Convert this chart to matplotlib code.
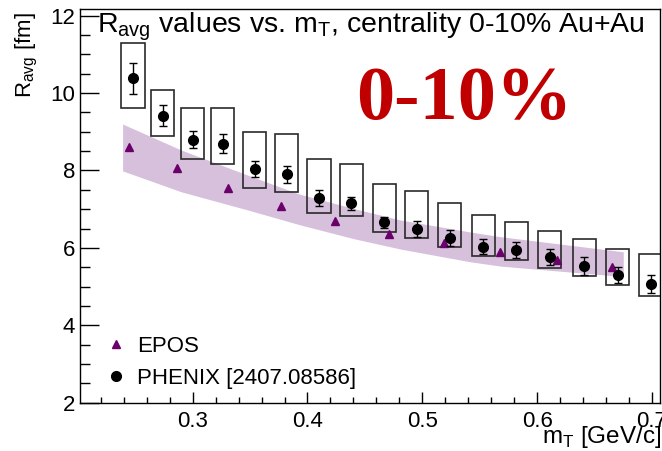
import matplotlib
matplotlib.use("Agg")
import matplotlib.pyplot as plt
from matplotlib.patches import Rectangle
from matplotlib.lines import Line2D
from matplotlib.ticker import MultipleLocator, FormatStrFormatter

plt.rcParams['font.family'] = ['Liberation Sans', 'DejaVu Sans']
plt.rcParams['mathtext.fontset'] = 'custom'
plt.rcParams['mathtext.rm'] = 'Liberation Sans'

# PHENIX data
mt = [0.248, 0.274, 0.300, 0.326, 0.354, 0.382, 0.410, 0.438, 0.467,
      0.495, 0.524, 0.553, 0.582, 0.611, 0.641, 0.670, 0.699]
ravg = [10.38, 9.42, 8.80, 8.69, 8.03, 7.90, 7.28, 7.15, 6.66,
        6.48, 6.26, 6.03, 5.95, 5.76, 5.54, 5.30, 5.07]
stat = [0.40, 0.26, 0.23, 0.245, 0.205, 0.22, 0.205, 0.175, 0.15,
        0.205, 0.205, 0.19, 0.205, 0.21, 0.23, 0.215, 0.225]
syst_hi = [11.29, 10.08, 9.61, 9.61, 9.00, 8.93, 8.30, 8.17, 7.66,
           7.46, 7.17, 6.85, 6.68, 6.44, 6.22, 5.98, 5.84]
syst_lo = [9.62, 8.89, 8.30, 8.17, 7.54, 7.44, 6.90, 6.82, 6.42,
           6.25, 6.03, 5.79, 5.69, 5.47, 5.28, 5.04, 4.76]
box_halfwidth = 0.0101

# EPOS points
epos_mt = [0.245, 0.286, 0.331, 0.377, 0.424, 0.471, 0.519, 0.568, 0.617, 0.665]
epos_r = [8.61, 8.06, 7.54, 7.08, 6.70, 6.37, 6.12, 5.90, 5.69, 5.50]

# EPOS band
band_mt = [0.239, 0.290, 0.348, 0.393, 0.440, 0.481, 0.542, 0.568, 0.675]
band_hi = [9.20, 8.53, 7.88, 7.39, 7.02, 6.72, 6.41, 6.29, 5.90]
band_lo = [7.99, 7.45, 6.98, 6.60, 6.24, 5.97, 5.64, 5.53, 5.26]

W, H = 662, 451
fig = plt.figure(figsize=(W / 100, H / 100), dpi=100)
ax = fig.add_axes([80 / W, 1 - 402.7 / H, 580 / W, (402.7 - 9.3) / H])

purple = '#6b006b'
band_color = '#d7c0dc'

ax.fill_between(band_mt, band_lo, band_hi, color=band_color, lw=0, zorder=1)
ax.plot(epos_mt, epos_r, ls='none', marker='^', ms=5.5, color=purple, zorder=3)

for x, lo, hi in zip(mt, syst_lo, syst_hi):
    ax.add_patch(Rectangle((x - box_halfwidth, lo), 2 * box_halfwidth, hi - lo,
                           fill=False, edgecolor='#2a2a2a', lw=1.2, zorder=2))

ax.errorbar(mt, ravg, yerr=stat, fmt='o', color='black', ms=7,
            elinewidth=1.0, capsize=3, capthick=1.0, zorder=4)

ax.set_xlim(0.2019, 0.707)
ax.set_ylim(2, 12.165)

ax.xaxis.set_major_locator(MultipleLocator(0.1))
ax.xaxis.set_minor_locator(MultipleLocator(0.02))
ax.yaxis.set_major_locator(MultipleLocator(2))
ax.yaxis.set_minor_locator(MultipleLocator(0.5))
ax.xaxis.set_major_formatter(FormatStrFormatter('%.1f'))
ax.yaxis.set_major_formatter(FormatStrFormatter('%d'))

ax.tick_params(which='both', direction='in', top=False, right=False,
               labelsize=16, width=1.0, color='black')
ax.tick_params(axis='y', which='major', length=14, pad=3.5)
ax.tick_params(axis='y', which='minor', length=7)
ax.tick_params(axis='x', which='major', length=8, pad=6)
ax.tick_params(axis='x', which='minor', length=4.3)
for s in ax.spines.values():
    s.set_linewidth(1.0)

fig.text(96.7 / W, 1 - 32 / H,
         r'R$_\mathregular{avg}$ values vs. m$_\mathregular{T}$, centrality 0-10% Au+Au',
         ha='left', va='baseline', fontsize=20.5)
fig.text(27 / W, 1 - 12 / H, r'R$_\mathregular{avg}$ [fm]', rotation=90,
         ha='center', va='top', fontsize=16)
fig.text(661 / W, 1 - 443 / H, r'm$_\mathregular{T}$ [GeV/c]',
         ha='right', va='baseline', fontsize=17.5)
fig.text(356 / W, 1 - 119 / H, '0-10%', family='Liberation Serif',
         weight='bold', color='#c00000', fontsize=55, ha='left', va='baseline')

handles = [Line2D([], [], ls='none', marker='^', ms=5.5, color=purple),
           Line2D([], [], ls='none', marker='o', ms=7, color='black')]
ax.legend(handles, ['EPOS', 'PHENIX [2407.08586]'], loc='center left',
          bbox_to_anchor=(104.6 / W, 1 - 362.5 / H), bbox_transform=fig.transFigure,
          frameon=False, borderpad=0, borderaxespad=0, handlelength=1.0,
          handletextpad=0.45, labelspacing=0.5, fontsize=16)

fig.savefig('out.png', dpi=100)
